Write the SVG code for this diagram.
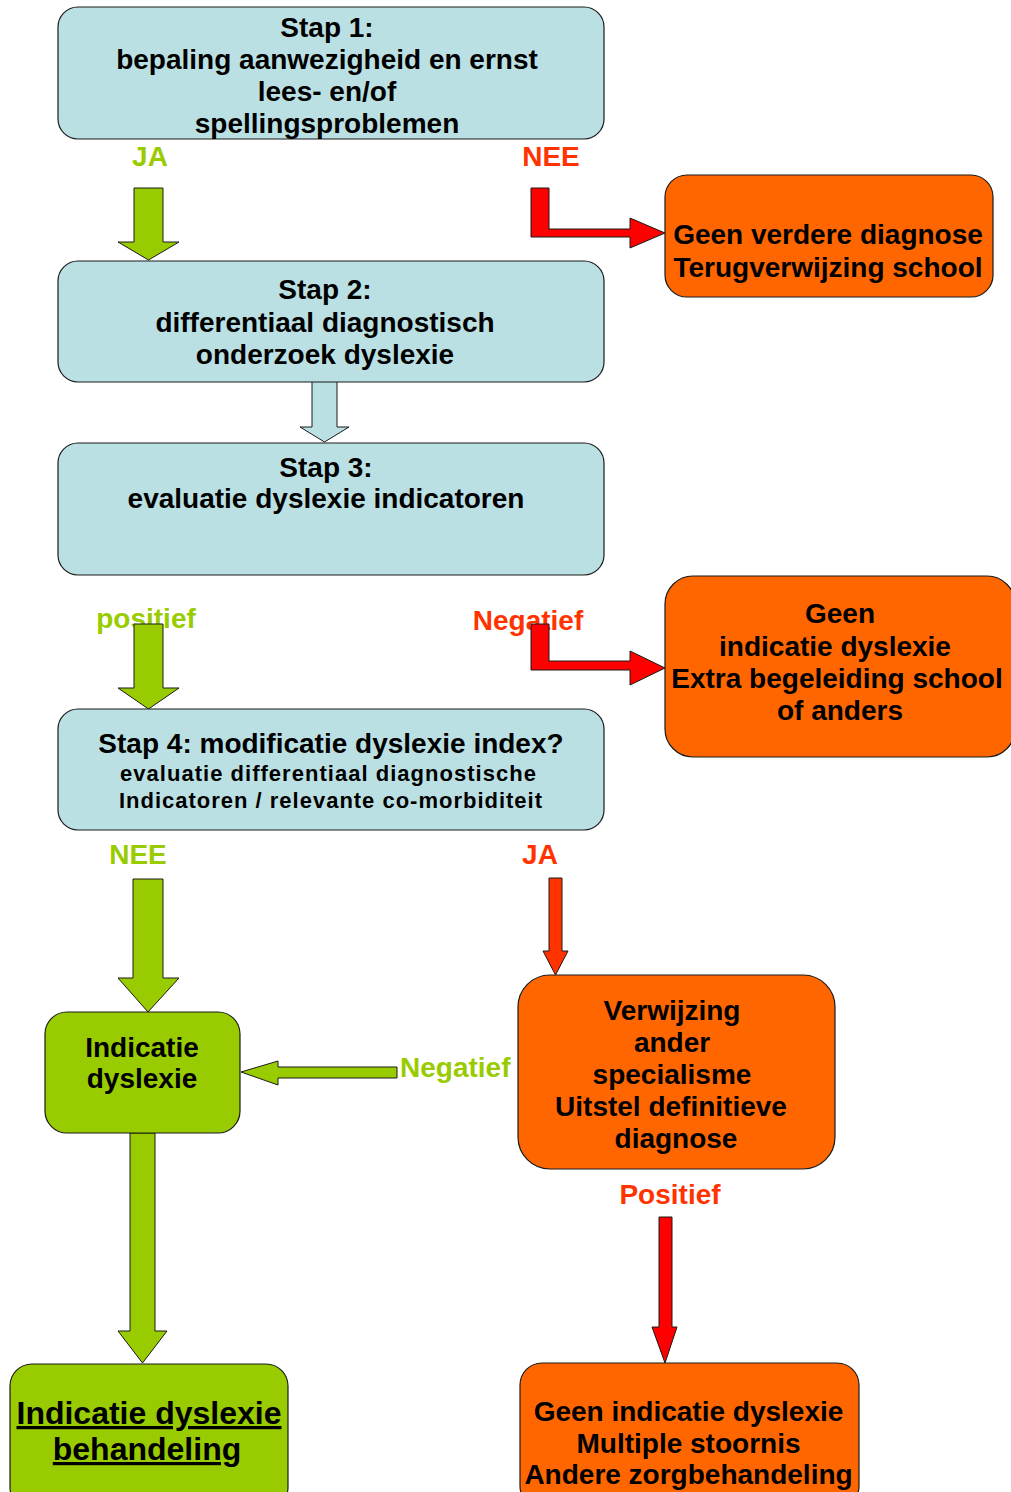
<svg xmlns="http://www.w3.org/2000/svg" width="1011" height="1492" viewBox="0 0 1011 1492">
<style>
.t{font-family:"Liberation Sans",Arial,sans-serif;font-weight:bold;font-size:28px;text-anchor:middle;fill:#000}
.s{font-size:22px}
.big{font-size:32px;text-decoration:underline}
.blue{fill:#BBE0E3;stroke:#1a1a1a;stroke-width:1.2}
.orange{fill:#FF6600;stroke:#1a1a1a;stroke-width:1.2}
.green{fill:#99CC00;stroke:#1a1a1a;stroke-width:1.2}
.ag{fill:#99CC00;stroke:#1a1a1a;stroke-width:1}
.ab{fill:#BBE0E3;stroke:#1a1a1a;stroke-width:1}
.ar{fill:#FF0000;stroke:#1a1a1a;stroke-width:1}
.ao{fill:#FF3300;stroke:#1a1a1a;stroke-width:1}
.lg{fill:#99CC00}
.lr{fill:#FF3300}
</style>
<rect width="1011" height="1492" fill="#fff"/>
<g id="labels">
<text class="t lg" x="150" y="166">JA</text>
<text class="t lr" x="551" y="166">NEE</text>
<text class="t lg" x="146" y="628">positief</text>
<text class="t lr" x="528" y="630">Negatief</text>
<text class="t lg" x="138" y="864">NEE</text>
<text class="t lr" x="540" y="864">JA</text>
<text class="t lg" x="400" y="1077" style="text-anchor:start">Negatief</text>
<text class="t lr" x="670" y="1204">Positief</text>
</g>
<g id="connectors">
<polygon class="ag" points="134,188 163,188 163,242 179,242 148.5,260 118,242 134,242"/>
<polygon class="ar" points="531,188 549,188 549,229 630,229 630,218 665,233 630,248 630,237 531,237"/>
<polygon class="ab" points="312,381 337,381 337,427 349,427 324.5,442 300,427 312,427"/>
<polygon class="ag" points="134,624 163,624 163,688 179,688 148.5,709 118,688 134,688"/>
<polygon class="ar" points="531,624 549,624 549,661 630,661 630,651 665,668 630,685 630,670 531,670"/>
<polygon class="ag" points="133,879 163,879 163,978 179,978 148,1012 118,978 133,978"/>
<polygon class="ao" points="549,878 562,878 562,951 568,951 555.5,975 543,951 549,951"/>
<polygon class="ag" points="397,1067 397,1078 278,1078 278,1085 241,1072 278,1061 278,1067"/>
<polygon class="ag" points="130,1133 155,1133 155,1331 167,1331 142.5,1363 118,1331 130,1331"/>
<polygon class="ar" points="659,1217 672,1217 672,1327 677,1327 665,1363 652,1327 659,1327"/>
</g>
<g id="stap1">
<rect class="blue" x="58" y="7" width="546" height="132" rx="20"/>
<text class="t" x="327" y="37">Stap 1:</text>
<text class="t" x="327" y="69">bepaling aanwezigheid en ernst</text>
<text class="t" x="327" y="101">lees- en/of</text>
<text class="t" x="327" y="133">spellingsproblemen</text>
</g>
<g id="geen-verdere">
<rect class="orange" x="665" y="175" width="328" height="122" rx="22"/>
<text class="t" x="828" y="244">Geen verdere diagnose</text>
<text class="t" x="828" y="277">Terugverwijzing school</text>
</g>
<g id="stap2">
<rect class="blue" x="58" y="261" width="546" height="121" rx="20"/>
<text class="t" x="325" y="299">Stap 2:</text>
<text class="t" x="325" y="332">differentiaal diagnostisch</text>
<text class="t" x="325" y="364">onderzoek dyslexie</text>
</g>
<g id="stap3">
<rect class="blue" x="58" y="443" width="546" height="132" rx="20"/>
<text class="t" x="326" y="477">Stap 3:</text>
<text class="t" x="326" y="508">evaluatie dyslexie indicatoren</text>
</g>
<g id="geen-indicatie">
<rect class="orange" x="665" y="576" width="350" height="181" rx="28"/>
<text class="t" x="840" y="623">Geen</text>
<text class="t" x="835" y="656">indicatie dyslexie</text>
<text class="t" x="837" y="688">Extra begeleiding school</text>
<text class="t" x="840" y="720">of anders</text>
</g>
<g id="stap4">
<rect class="blue" x="58" y="709" width="546" height="121" rx="20"/>
<text class="t" x="331" y="753">Stap 4: modificatie dyslexie index?</text>
<text class="t s" x="328" y="781" textLength="416" lengthAdjust="spacing">evaluatie differentiaal diagnostische</text>
<text class="t s" x="330.5" y="808" textLength="423" lengthAdjust="spacing">Indicatoren / relevante co-morbiditeit</text>
</g>
<g id="indicatie">
<rect class="green" x="45" y="1012" width="195" height="121" rx="22"/>
<text class="t" x="142" y="1057">Indicatie</text>
<text class="t" x="142" y="1088">dyslexie</text>
</g>
<g id="verwijzing">
<rect class="orange" x="518" y="975" width="317" height="194" rx="32"/>
<text class="t" x="672" y="1020">Verwijzing</text>
<text class="t" x="672" y="1052">ander</text>
<text class="t" x="672" y="1084">specialisme</text>
<text class="t" x="671" y="1116">Uitstel definitieve</text>
<text class="t" x="676" y="1148">diagnose</text>
</g>
<g id="behandeling">
<rect class="green" x="10" y="1364" width="278" height="145" rx="22"/>
<text class="t big" x="149" y="1424">Indicatie dyslexie</text>
<text class="t big" x="147" y="1460">behandeling</text>
</g>
<g id="andere-zorg">
<rect class="orange" x="520" y="1363" width="339" height="145" rx="22"/>
<text class="t" x="688.5" y="1421">Geen indicatie dyslexie</text>
<text class="t" x="688.5" y="1453">Multiple stoornis</text>
<text class="t" x="688.5" y="1484">Andere zorgbehandeling</text>
</g>
</svg>
